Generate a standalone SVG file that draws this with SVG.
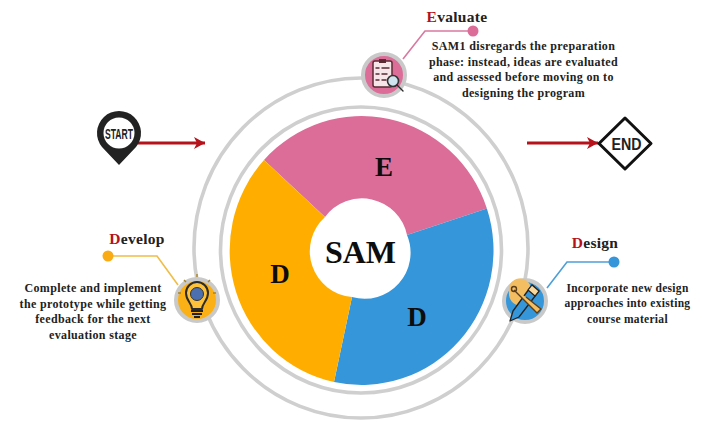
<svg xmlns="http://www.w3.org/2000/svg" width="702" height="422" viewBox="0 0 702 422">
<style>
.t{font-family:"Liberation Serif","Times New Roman",serif;font-weight:700;fill:#222;text-anchor:middle}
.b{font-size:12px;letter-spacing:.35px}
.s{font-size:11.500px;letter-spacing:.3px}
.h{font-size:15.5px;letter-spacing:.3px}
.r{fill:#b5121b}
.big{font-family:"Liberation Serif","Times New Roman",serif;font-weight:700;fill:#0d0d0d;text-anchor:middle}
.ring{fill:none;stroke:#cfcfcf;stroke-width:3.600}
.halo{stroke:#c9c9c9;stroke-width:4}
.ic{fill:none;stroke:#2b2b2b;stroke-width:1.400;stroke-linecap:round;stroke-linejoin:round}
.sans{font-family:"Liberation Sans",Arial,sans-serif;font-weight:700;text-anchor:middle;fill:#222}
</style>
<defs>
<marker id="ah" markerUnits="userSpaceOnUse" markerWidth="12" markerHeight="14" refX="11" refY="7" orient="auto"><path d="M0 1L11 7L0 13L3 7Z" fill="#b5121b"/></marker>
</defs>
<rect width="702" height="422" fill="#fff"/>
<g id="rings">
<ellipse class="ring" cx="361" cy="248" rx="167" ry="170"/>
<ellipse class="ring" cx="361" cy="250" rx="140.500" ry="143"/>
</g>
<g id="pie">
<path id="seg-evaluate" d="M264 160A132 134.500 0 0 1 486.900 208.400L407 235A46 46 0 0 0 325 217Z" fill="#dc6d98"/>
<path id="seg-design" d="M486.900 208.400A132 134.500 0 0 1 334 382L352 297A46 46 0 0 0 407 235Z" fill="#3596d9"/>
<path id="seg-develop" d="M334 382A132 134.500 0 0 1 264 160L325 217A46 46 0 0 0 352 297Z" fill="#ffae00"/>
<text class="big" x="384" y="176" font-size="27">E</text>
<text class="big" x="280" y="283" font-size="27">D</text>
<text class="big" x="417" y="326" font-size="27">D</text>
</g>
<g id="center">
<circle cx="361" cy="250" r="46" fill="#fff"/>
<text class="big" x="360.500" y="263" font-size="32">SAM</text>
</g>
<g id="connectors" fill="none">
<path d="M403 59L425 31H473" stroke="#d9799f" stroke-width="1.600"/>
<circle cx="473" cy="31" r="5.500" fill="#dc6d98"/>
<path d="M178 285L157 256H108" stroke="#f0bd45" stroke-width="1.600"/>
<circle cx="108" cy="256" r="5.500" fill="#f9ab16"/>
<path d="M547 288L567 262H614" stroke="#4d9fd8" stroke-width="1.600"/>
<circle cx="614" cy="262" r="5.500" fill="#3596d9"/>
<path d="M138 143H205" stroke="#b5121b" stroke-width="3" marker-end="url(#ah)"/>
<path d="M527 143H598" stroke="#b5121b" stroke-width="3" marker-end="url(#ah)"/>
</g>
<g id="start">
<path d="M119 165L102 147A22 22 0 1 1 136 147Z" fill="#222"/>
<circle cx="119" cy="133" r="15.500" fill="#fff"/>
<text class="sans" x="119" y="138.500" font-size="14.500" textLength="28" lengthAdjust="spacingAndGlyphs">START</text>
</g>
<g id="end">
<path d="M625 118L651 143.500L625 169L599 143.500Z" fill="#fff" stroke="#111" stroke-width="3" stroke-linejoin="round"/>
<text class="sans" x="626.500" y="149.500" font-size="16" textLength="30" lengthAdjust="spacingAndGlyphs">END</text>
</g>
<g id="evaluate">
<circle cx="384" cy="75" r="21" fill="#dc6d98" class="halo"/>
<rect x="373" y="61" width="19" height="26" rx="2" fill="#f6e6ea" stroke="#5a2b33" stroke-width="1.500"/>
<rect x="379" y="59" width="7" height="4" fill="#5a2b33"/>
<path d="M376 68h3M382 68h7M376 74h3M382 74h5M376 80h3M382 80h4" fill="none" stroke="#5a2b33" stroke-width="1.400" stroke-linecap="round"/>
<circle cx="393" cy="81" r="5.500" fill="#cfe4ee" stroke="#333" stroke-width="1.600"/>
<path class="ic" d="M397 85L403 91" stroke-width="2.400"/>
<text class="t h" x="457" y="22"><tspan class="r">E</tspan>valuate</text>
<text class="t b" x="523.500" y="50">SAM1 disregards the preparation</text>
<text class="t b" x="523.500" y="66">phase: instead, ideas are evaluated</text>
<text class="t b" x="523.500" y="81">and assessed before moving on to</text>
<text class="t b" x="523.500" y="97">designing the program</text>
</g>
<g id="develop">
<circle cx="197" cy="300" r="21" fill="#fbb015" class="halo"/>
<path d="M192 309C192 303 186 301 186 293A11 11 0 0 1 208 293C208 301 202 303 202 309Z" fill="#fdc23a" stroke="#2b2b2b" stroke-width="2" stroke-linejoin="round"/>
<circle cx="197" cy="294" r="6.500" fill="#4c6fb0" stroke="#333"/>
<path d="M191 311h12M192 314h10M194 317h6" stroke="#222" stroke-width="2"/>
<path d="M181 293h-3M213 293h3M186 282l-2-2M208 282l2-2M197 277v-3" fill="none" stroke="#a8842a" stroke-width="1.400"/>
<text class="t h" x="137" y="244"><tspan class="r">D</tspan>evelop</text>
<text class="t b" x="93" y="292">Complete and implement</text>
<text class="t b" x="93" y="308">the prototype while getting</text>
<text class="t b" x="93" y="323">feedback for the next</text>
<text class="t b" x="93" y="339">evaluation stage</text>
</g>
<g id="design">
<circle cx="525" cy="301" r="21" fill="#3596d9" class="halo"/>
<path d="M509 291A11 11 0 0 1 531 288C533 296 531 306 520 306C512 305 508 298 509 291Z" fill="#f3bd62"/>
<path d="M532 285L539 291L519 317L510 321L513 311Z" fill="#3596d9" stroke="#222" stroke-width="1.300" stroke-linejoin="round"/>
<path d="M532 285L539 291L535 296L528 290Z" fill="#f7d9a0" stroke="#222" stroke-width="1.200" stroke-linejoin="round"/>
<path d="M514 290L537 313L541 309L526 297" fill="#f3bd62" stroke="#5a3d1a" stroke-width="1.400" stroke-linejoin="round"/>
<circle cx="514" cy="289" r="2.500" fill="none" stroke="#5a3d1a" stroke-width="1.400"/>
<text class="t h" x="595" y="248"><tspan class="r">D</tspan>esign</text>
<text class="t s" x="627.500" y="292">Incorporate new design</text>
<text class="t s" x="627.500" y="307">approaches into existing</text>
<text class="t s" x="627.500" y="323">course material</text>
</g>
</svg>
